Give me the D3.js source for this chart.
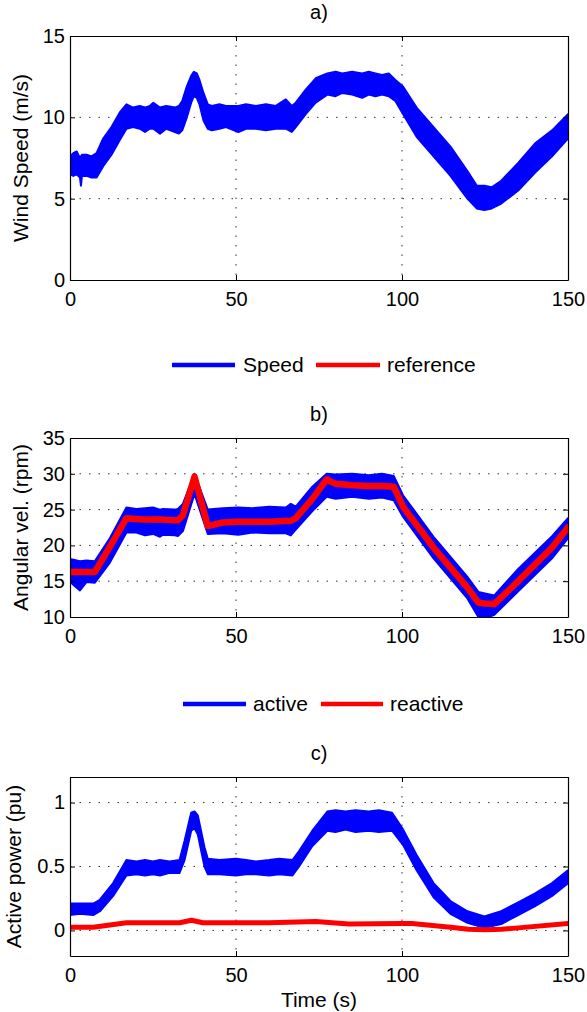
<!DOCTYPE html>
<html>
<head>
<meta charset="utf-8">
<script src="https://cdn.jsdelivr.net/npm/d3@7"></script>
<style>
  body { margin: 0; background: #fff; }
  text { font-family: "Liberation Sans", Arial, Helvetica, sans-serif; fill: #000; }
</style>
</head>
<body>
<script>
// ---- data ----
var xTicks = [0, 50, 100, 150];

// a) wind speed: noisy band given by lower / upper envelope (m/s)
var timeA   = [0, 1, 2, 3, 3.3, 3.6, 5, 6.5, 8, 10, 12.5, 15, 17, 19, 21, 22.6, 24, 25.1, 27.1, 29, 31.6, 32.8, 33.8, 35.2, 36.5, 37.3, 38.2, 39, 40.2, 41.5, 42.7, 45, 47, 50.7, 53, 56, 59, 62, 65, 66.8, 68, 71, 74, 77.5, 80, 82, 85, 88, 90, 92, 94, 96, 98, 100.3, 104.4, 109.5, 114.6, 119.7, 122.5, 124.8, 127, 129.9, 135, 140.1, 145.2, 150];
var speedLo = [6.5, 6.4, 6.5, 6.3, 5.8, 6.4, 6.4, 6.3, 6.3, 7.0, 7.7, 8.6, 9.3, 9.4, 9.3, 9.1, 9.3, 9.3, 9.0, 9.3, 9.1, 9.0, 9.2, 10.0, 10.9, 11.3, 11.2, 10.8, 9.8, 9.3, 9.2, 9.3, 9.4, 9.1, 9.3, 9.3, 9.2, 9.3, 9.3, 9.1, 9.4, 10.2, 10.9, 11.4, 11.3, 11.5, 11.4, 11.2, 11.4, 11.3, 11.4, 11.3, 11.0, 10.2, 8.8, 7.6, 6.4, 5.0, 4.4, 4.3, 4.4, 4.7, 5.5, 6.6, 7.6, 8.7];
var speedHi = [7.6, 7.8, 7.9, 7.5, 7.6, 7.7, 7.7, 7.6, 7.8, 8.7, 9.4, 10.3, 10.8, 10.6, 10.7, 10.6, 10.7, 10.9, 10.6, 10.7, 10.6, 10.7, 11.0, 11.9, 12.55, 12.8, 12.7, 12.3, 11.5, 10.8, 10.7, 10.8, 10.7, 10.7, 10.8, 10.7, 10.8, 10.7, 11.1, 10.7, 10.9, 11.7, 12.4, 12.7, 12.8, 12.7, 12.8, 12.7, 12.8, 12.7, 12.6, 12.7, 12.3, 11.9, 10.6, 9.4, 8.2, 6.7, 5.8, 5.8, 5.7, 6.1, 7.2, 8.4, 9.2, 10.2];

// b) angular velocity (rpm): reference and measured band
var timeB  = [0, 3, 5, 7.5, 12, 17, 20, 22.6, 25, 27.1, 28, 31.6, 32.5, 34, 37.5, 41.5, 46, 50.7, 55, 60, 65, 66.5, 68, 73, 77.3, 80, 85, 90, 94, 97.5, 100.3, 109.5, 119.7, 123, 125, 127.8, 135, 145.2, 150];
var refB   = [16.3, 16.3, 16.3, 16.3, 19.8, 23.8, 23.7, 23.6, 23.6, 23.6, 23.6, 23.5, 23.5, 24.2, 29.6, 22.7, 23.2, 23.3, 23.3, 23.3, 23.4, 23.4, 23.8, 26.5, 29.2, 28.6, 28.4, 28.3, 28.3, 28.2, 25.4, 19.7, 14.1, 12.0, 11.9, 11.8, 15.0, 19.7, 22.5];
var velLo  = [14.9, 13.7, 14.9, 14.8, 17.6, 21.8, 21.8, 21.4, 21.6, 21.2, 21.5, 21.4, 21.3, 22.0, 27.2, 21.6, 21.7, 21.5, 21.8, 21.7, 21.7, 21.4, 22.2, 24.8, 26.8, 26.5, 26.8, 26.5, 26.7, 26.3, 24.0, 18.2, 12.6, 10.0, 9.8, 10.3, 13.6, 18.2, 21.0];
var velHi  = [18.1, 17.8, 17.9, 17.8, 21.0, 25.3, 25.1, 25.2, 25.3, 25.0, 25.1, 25.0, 25.1, 25.8, 30.0, 25.0, 25.2, 25.3, 25.2, 25.4, 25.3, 25.8, 25.4, 28.2, 30.0, 29.9, 30.0, 29.8, 30.0, 29.7, 27.0, 21.2, 15.6, 13.5, 13.3, 13.0, 16.7, 21.3, 23.8];

// c) active power band and reactive power (pu)
var timeC    = [0, 3, 7, 9, 13, 17, 20, 22.6, 25, 27.1, 30, 33, 34.5, 36.5, 37.5, 38.5, 40.5, 41.5, 45, 50, 53, 56, 60, 63, 67, 69, 73, 77.5, 80, 83, 86, 90, 93, 97, 100.3, 104.4, 109.5, 114.6, 119.7, 124.8, 129.9, 135, 140.1, 145.2, 150];
var activeLo = [0.12, 0.13, 0.12, 0.15, 0.27, 0.43, 0.44, 0.43, 0.44, 0.43, 0.45, 0.45, 0.55, 0.78, 0.80, 0.75, 0.50, 0.44, 0.44, 0.43, 0.44, 0.44, 0.43, 0.44, 0.43, 0.50, 0.66, 0.78, 0.77, 0.79, 0.77, 0.78, 0.77, 0.78, 0.67, 0.47, 0.26, 0.13, 0.06, 0.02, 0.05, 0.12, 0.19, 0.27, 0.37];
var activeHi = [0.21, 0.21, 0.21, 0.24, 0.37, 0.55, 0.54, 0.55, 0.54, 0.55, 0.54, 0.55, 0.70, 0.92, 0.93, 0.90, 0.65, 0.56, 0.55, 0.56, 0.55, 0.54, 0.55, 0.56, 0.55, 0.62, 0.78, 0.93, 0.94, 0.93, 0.94, 0.93, 0.94, 0.92, 0.79, 0.59, 0.37, 0.23, 0.15, 0.11, 0.15, 0.22, 0.29, 0.37, 0.47];
var timeR    = [0, 7, 17, 33, 36.6, 40, 60, 74, 84, 100, 103, 114.6, 120, 125, 130, 135, 150];
var reactive = [0.025, 0.025, 0.06, 0.06, 0.08, 0.06, 0.06, 0.07, 0.05, 0.055, 0.055, 0.025, 0.01, 0.005, 0.01, 0.02, 0.055];

var legend1 = ['Speed', 'reference'];
var legend2 = ['active', 'reactive'];
var blue = '#0000ff', red = '#ff0000';

// ---- layout ----
var W = 587, H = 1012;
var plotL = 70, plotR = 568;

var svg = d3.select('body').append('svg')
    .attr('width', W)
    .attr('height', H);

var x = d3.scaleLinear().domain([0, 150]).range([plotL, plotR]);

function zip(t, lo, hi) {
    return t.map(function(d, i) { return {t: d, lo: lo[i], hi: hi[i]}; });
}

function drawPanel(p) {
    var y = d3.scaleLinear().domain(p.domain).range([p.bottom, p.top]);
    var g = svg.append('g');
    var clipId = 'clip-' + p.name;

    g.append('clipPath').attr('id', clipId)
      .append('rect')
        .attr('x', plotL).attr('y', p.top)
        .attr('width', plotR - plotL).attr('height', p.bottom - p.top);

    // dotted grid at inner ticks
    g.selectAll('.gx').data(xTicks.slice(1, -1)).enter().append('line')
        .attr('x1', function(d) { return x(d); }).attr('x2', function(d) { return x(d); })
        .attr('y1', p.top).attr('y2', p.bottom)
        .attr('stroke', '#333').attr('stroke-width', 1)
        .attr('stroke-dasharray', '1.5,8');
    g.selectAll('.gy').data(p.ticks.filter(function(d) { return y(d) > p.top + 1 && y(d) < p.bottom - 1; }))
      .enter().append('line')
        .attr('x1', plotL).attr('x2', plotR)
        .attr('y1', function(d) { return y(d); }).attr('y2', function(d) { return y(d); })
        .attr('stroke', '#333').attr('stroke-width', 1)
        .attr('stroke-dasharray', '1.5,8');

    var marks = g.append('g').attr('clip-path', 'url(#' + clipId + ')');

    p.bands.forEach(function(b) {
        var area = d3.area()
            .x(function(d) { return x(d.t); })
            .y0(function(d) { return y(d.lo); })
            .y1(function(d) { return y(d.hi); });
        marks.append('path')
            .datum(zip(b.t, b.lo, b.hi))
            .attr('d', area)
            .attr('fill', b.color)
            .attr('stroke', b.color)
            .attr('stroke-width', 2)
            .attr('stroke-linejoin', 'round');
    });

    p.lines.forEach(function(l) {
        var line = d3.line()
            .x(function(d, i) { return x(l.t[i]); })
            .y(function(d) { return y(d); });
        marks.append('path')
            .datum(l.v)
            .attr('d', line)
            .attr('fill', 'none')
            .attr('stroke', l.color)
            .attr('stroke-width', l.width)
            .attr('stroke-linejoin', 'round')
            .attr('stroke-linecap', 'round');
    });

    // axes with MATLAB style inward ticks
    var fmt = function(d) { return String(d); };
    var ax = [
        {a: d3.axisBottom(x).tickValues(xTicks).tickFormat(fmt).tickPadding(12), tr: [0, p.bottom]},
        {a: d3.axisTop(x).tickValues(xTicks).tickFormat(''), tr: [0, p.top]},
        {a: d3.axisLeft(y).tickValues(p.ticks).tickFormat(fmt).tickPadding(5), tr: [plotL, 0]},
        {a: d3.axisRight(y).tickValues(p.ticks).tickFormat(''), tr: [plotR, 0]}
    ];
    ax.forEach(function(o) {
        var axg = g.append('g')
            .attr('transform', 'translate(' + o.tr + ')')
            .call(o.a.tickSizeInner(-5).tickSizeOuter(0));
        axg.select('.domain').attr('stroke', '#000').attr('stroke-width', 1.2);
        axg.selectAll('.tick line').attr('stroke', '#000');
        axg.selectAll('text')
            .style('font-family', '"Liberation Sans", Arial, sans-serif')
            .style('font-size', '20px')
            .attr('fill', '#000');
    });

    g.append('text')
        .attr('x', (plotL + plotR) / 2).attr('y', p.top - 24)
        .attr('dy', '0.35em')
        .attr('text-anchor', 'middle')
        .style('font-size', '20px')
        .text(p.title);

    g.append('text')
        .attr('transform', 'translate(' + p.labelX + ',' + (p.top + p.bottom) / 2 + ') rotate(-90)')
        .attr('dy', '0.35em')
        .attr('text-anchor', 'middle')
        .style('font-size', '21px')
        .text(p.ylabel);
}

function drawLegend(names, yPos, parts) {
    var lg = svg.append('g');
    names.forEach(function(n, i) {
        var pt = parts[i];
        lg.append('line')
            .attr('x1', pt[0]).attr('x2', pt[1])
            .attr('y1', yPos).attr('y2', yPos)
            .attr('stroke', i === 0 ? blue : red)
            .attr('stroke-width', 4.5);
        lg.append('text')
            .attr('x', pt[2]).attr('y', yPos)
            .attr('dy', '0.35em')
            .style('font-size', '21px')
            .text(n);
    });
}

drawPanel({
    name: 'a', top: 36, bottom: 280, domain: [0, 15], ticks: [0, 5, 10, 15],
    title: 'a)', ylabel: 'Wind Speed (m/s)', labelX: 21,
    bands: [{t: timeA, lo: speedLo, hi: speedHi, color: blue}],
    lines: []
});
drawLegend(legend1, 365, [[172, 235, 243], [316, 380, 387]]);

drawPanel({
    name: 'b', top: 438, bottom: 617, domain: [10, 35], ticks: [10, 15, 20, 25, 30, 35],
    title: 'b)', ylabel: 'Angular vel. (rpm)', labelX: 21,
    bands: [{t: timeB, lo: velLo, hi: velHi, color: blue}],
    lines: [{t: timeB, v: refB, color: red, width: 6.5}]
});
drawLegend(legend2, 704, [[183, 246, 253], [321, 383, 390]]);

drawPanel({
    name: 'c', top: 777, bottom: 956, domain: [-0.2, 1.2], ticks: [0, 0.5, 1],
    title: 'c)', ylabel: 'Active power (pu)', labelX: 14,
    bands: [{t: timeC, lo: activeLo, hi: activeHi, color: blue}],
    lines: [{t: timeR, v: reactive, color: red, width: 5}]
});

svg.append('text')
    .attr('x', (plotL + plotR) / 2).attr('y', 1000)
    .attr('dy', '0.35em')
    .attr('text-anchor', 'middle')
    .style('font-size', '21px')
    .text('Time (s)');
</script>
</body>
</html>
